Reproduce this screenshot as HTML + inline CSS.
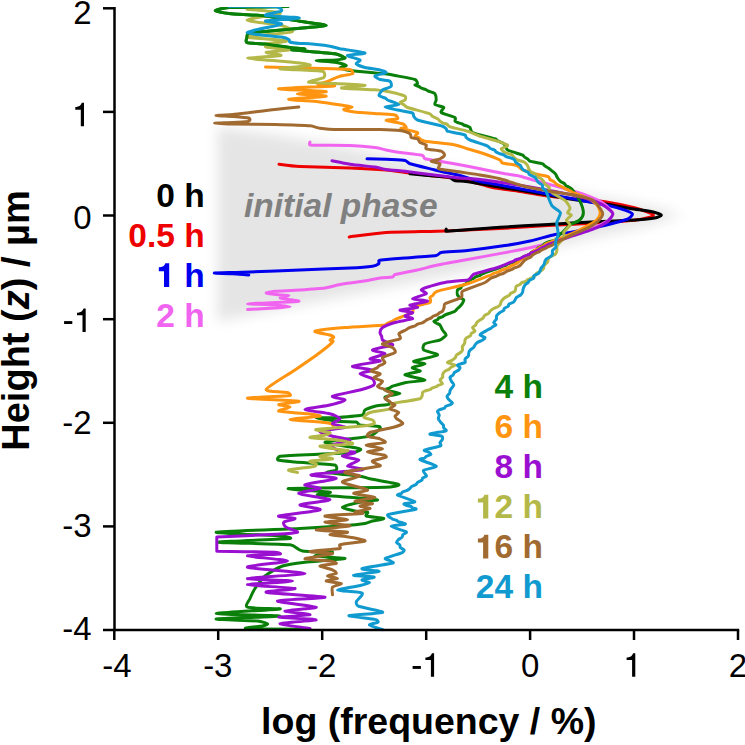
<!DOCTYPE html>
<html><head><meta charset="utf-8"><title>chart</title>
<style>
html,body{margin:0;padding:0;background:#fff;}
body{width:745px;height:745px;overflow:hidden;font-family:"Liberation Sans",sans-serif;}
svg{display:block;}
text{font-family:"Liberation Sans",sans-serif;}
.t{font-size:33px;fill:#000;}
.b{font-size:33.5px;font-weight:bold;}
.ax{font-size:37.5px;font-weight:bold;fill:#000;}
.c{fill:none;stroke-width:3;stroke-linejoin:round;stroke-linecap:round;}
</style></head><body>
<svg width="745" height="745" viewBox="0 0 745 745">
<defs><filter id="bl" x="-20%" y="-20%" width="140%" height="140%"><feGaussianBlur stdDeviation="6.5"/></filter><clipPath id="cp"><rect x="100" y="7" width="645" height="625"/></clipPath></defs>
<rect width="745" height="745" fill="#fff"/>
<path d="M217.5,127 L270,134 L335,145 L400,158.5 L505,179 L600,197.5 L645,205.5 L683,215 L645,226 L600,236 L542,250 L505,261 L455,274 L380,289 L300,305 L217.5,321 Z" fill="#e5e5e5" filter="url(#bl)"/>
<text x="244" y="216.7" class="b" style="font-style:italic;font-size:33.5px" fill="#808080">initial phase</text>
<path class="c" clip-path="url(#cp)" stroke="#ee0000" d="M279.0,164.2 C281.4,164.5 292.0,166.1 300.0,166.5 C308.3,166.9 340.0,167.6 350.0,168.0 C360.0,168.4 379.6,169.5 386.0,170.0 C392.4,170.5 399.9,171.9 405.0,172.5 C410.1,173.1 423.3,174.7 430.0,175.5 C436.7,176.3 455.2,178.1 462.5,179.5 C469.8,180.9 485.8,186.1 492.5,187.5 C499.2,188.9 513.1,190.4 520.0,191.5 C526.9,192.6 545.0,195.6 552.0,196.5 C559.0,197.4 573.7,198.9 580.0,199.5 C586.3,200.1 599.8,201.0 606.3,202.0 C612.8,203.0 629.8,206.5 635.3,208.0 C640.8,209.5 652.9,213.9 653.4,215.2 C653.9,216.5 645.3,218.7 640.0,219.5 C633.8,220.4 610.7,222.1 600.0,222.8 C589.3,223.5 559.7,224.8 548.0,225.5 C536.3,226.2 511.9,227.9 500.0,228.5 C488.1,229.1 459.3,230.5 446.0,231.0 C432.7,231.5 397.5,231.8 386.2,232.5 C375.0,233.2 353.6,236.5 349.2,237.0"/>
<path class="c" clip-path="url(#cp)" stroke="#000000" d="M410.0,173.8 C413.5,174.1 435.4,176.2 440.0,176.6 C443.7,176.9 448.0,176.9 449.7,177.4 C451.4,177.9 452.6,180.1 454.5,180.6 C456.4,181.1 462.8,181.0 465.8,181.4 C468.8,181.8 475.8,183.0 480.3,183.8 C484.8,184.6 498.6,187.0 504.4,187.9 C510.2,188.8 524.6,191.0 530.2,191.9 C535.8,192.8 547.0,194.9 552.8,195.9 C558.6,196.9 573.8,199.6 580.0,200.5 C586.2,201.4 600.2,203.1 606.0,204.0 C611.8,204.9 625.5,207.7 630.0,208.5 C634.5,209.3 642.1,210.0 645.0,210.5 C647.9,211.0 653.1,212.0 655.0,212.5 C656.9,213.0 661.4,214.5 661.4,215.2 C661.4,215.9 657.4,217.6 654.6,218.1 C651.6,218.7 642.1,219.6 635.3,220.0 C628.5,220.4 606.8,221.3 596.6,221.8 C586.5,222.3 559.6,223.8 548.3,224.4 C537.0,225.0 511.9,226.5 500.0,227.3 C488.1,228.1 452.5,231.1 446.2,231.2 C445.4,231.3 446.2,229.3 446.2,229.0"/>
<path class="c" clip-path="url(#cp)" stroke="#0000ee" d="M367.0,158.8 C369.2,158.8 381.6,159.0 386.0,159.2 C390.4,159.5 402.2,160.0 405.0,160.5 C407.2,160.9 407.8,163.1 410.0,163.8 C413.5,164.9 428.9,168.5 435.0,170.0 C441.1,171.5 457.2,174.9 462.5,176.2 C467.8,177.6 475.0,180.4 480.0,181.5 C485.0,182.6 498.6,184.8 505.0,186.0 C511.4,187.2 527.1,190.0 535.0,191.5 C542.9,193.0 563.9,197.2 572.5,198.8 C581.1,200.4 602.5,204.2 608.7,205.6 C614.9,207.0 622.8,209.4 625.6,210.4 C628.4,211.4 632.1,213.0 632.4,214.0 C632.7,215.0 629.9,217.9 628.0,218.9 C626.1,219.9 619.7,221.5 616.0,222.5 C612.3,223.5 601.7,226.2 596.6,227.3 C591.5,228.4 577.4,231.2 572.5,232.0 C567.6,232.8 560.0,233.4 555.0,234.5 C550.0,235.6 535.8,239.7 530.0,241.0 C524.2,242.3 512.3,244.5 505.0,245.6 C497.7,246.7 474.9,249.7 467.5,250.5 C460.1,251.3 444.9,251.9 441.2,252.5 C439.1,252.9 438.4,255.2 436.2,255.5 C432.0,256.1 411.4,257.5 405.0,258.0 C398.6,258.5 384.3,259.7 381.2,260.0 C380.3,260.1 379.0,260.3 378.8,260.8 C378.5,261.2 379.5,263.1 378.8,263.8 C378.0,264.4 375.0,265.9 372.5,266.2 C369.1,266.7 358.5,267.6 350.0,268.0 C341.5,268.4 311.7,269.5 300.0,270.0 C288.3,270.5 260.0,271.6 250.0,272.0 C240.0,272.4 216.5,272.8 214.5,273.0 C212.5,273.2 228.5,273.5 232.5,273.8 C236.5,274.0 246.9,274.9 248.8,275.0"/>
<path class="c" clip-path="url(#cp)" stroke="#f064f0" d="M310.0,142.0 C310.0,142.3 308.9,144.9 310.0,145.0 C314.7,145.4 342.4,145.2 350.0,145.5 C357.6,145.8 370.8,147.0 375.0,147.5 C379.2,148.0 383.1,149.4 386.0,150.0 C388.9,150.6 395.7,151.9 400.0,152.5 C404.3,153.1 419.6,154.8 422.5,155.5 C424.0,155.9 423.5,158.3 425.0,158.8 C427.3,159.5 436.1,160.6 442.5,161.8 C448.9,162.9 472.7,167.3 480.0,168.8 C487.3,170.2 500.3,172.9 505.0,173.8 C509.7,174.6 516.5,175.5 520.0,176.2 C523.5,177.0 531.7,179.6 535.0,180.5 C538.3,181.4 544.4,183.0 548.0,184.0 C551.6,185.0 561.7,187.8 566.0,189.0 C570.3,190.2 580.5,193.2 584.6,194.7 C588.7,196.2 598.5,200.3 601.5,202.0 C604.5,203.7 608.7,207.8 610.0,209.2 C611.3,210.6 613.1,212.7 613.0,214.0 C612.9,215.3 610.5,218.7 609.0,220.0 C607.5,221.3 602.8,223.7 600.0,225.0 C597.2,226.3 589.0,229.5 585.0,231.0 C581.0,232.5 569.5,236.3 566.0,237.5 C562.5,238.7 559.2,240.0 555.0,241.2 C550.8,242.5 535.8,246.5 530.0,247.8 C524.2,249.1 512.3,251.2 505.0,252.6 C497.7,254.0 475.4,258.1 467.5,259.5 C459.6,260.9 443.3,263.8 437.5,265.0 C431.7,266.2 422.5,268.9 417.5,270.0 C412.5,271.1 397.9,273.7 395.0,274.5 C393.7,274.9 393.8,276.7 392.5,277.0 C390.8,277.4 383.5,277.5 380.0,278.0 C376.5,278.5 367.2,280.5 362.5,281.2 C357.8,282.0 344.4,283.7 340.0,284.5 C335.6,285.3 329.7,287.4 325.0,288.0 C320.3,288.6 305.8,289.6 300.0,290.0 C294.2,290.4 278.9,290.9 275.0,291.2 C271.6,291.6 265.7,292.6 266.2,293.0 C266.8,293.4 277.4,294.7 280.0,295.0 C282.6,295.3 288.8,295.1 288.8,295.5 C288.8,295.9 280.0,297.5 280.0,298.0 C280.0,298.5 286.6,299.1 288.8,299.5 C290.9,299.9 300.4,300.9 298.8,301.2 C297.1,301.6 281.0,302.2 275.0,302.5 C269.0,302.8 247.5,303.5 247.5,303.8 C247.5,304.0 270.0,304.6 275.0,305.0 C280.0,305.4 290.0,306.4 290.0,306.8 C290.0,307.1 280.0,307.7 275.0,308.0 C270.0,308.3 250.7,309.3 247.5,309.5"/>
<path class="c" clip-path="url(#cp)" stroke="#0a800a" d="M288.0,6.4 C281.1,6.5 237.5,7.1 229.0,7.6 C223.6,7.9 215.2,10.1 215.2,10.8 C215.2,11.5 223.7,12.8 229.0,13.4 C234.8,14.0 256.7,15.1 265.0,16.0 C273.3,16.9 292.9,20.1 300.0,21.2 C307.1,22.4 326.2,24.7 326.2,25.5 C326.2,26.3 306.9,27.6 300.0,28.2 C293.1,28.9 273.5,30.6 267.5,31.2 C261.5,31.8 250.8,32.7 248.4,33.4 C247.0,33.8 247.2,35.9 247.0,37.0 C246.8,38.1 245.0,41.9 247.0,42.7 C249.1,43.5 259.8,43.4 265.0,44.0 C270.2,44.6 287.0,47.2 291.7,47.8 C296.4,48.4 305.0,48.5 305.0,48.8 C305.0,49.0 288.5,49.2 292.0,49.8 C295.5,50.4 328.8,52.8 335.0,53.8 C339.1,54.4 344.9,57.3 345.0,58.0 C345.1,58.7 339.6,59.7 336.2,60.0 C332.9,60.3 316.2,60.5 316.2,60.8 C316.2,61.0 332.8,61.9 336.2,62.5 C339.8,63.1 345.8,64.9 346.2,65.5 C346.7,66.1 339.6,67.4 340.0,68.0 C340.4,68.6 346.1,69.9 350.0,70.5 C354.1,71.1 370.9,72.6 375.0,73.0 C378.8,73.4 382.7,73.5 385.0,73.8 C387.3,74.0 391.5,74.8 395.0,75.5 C398.5,76.2 412.4,78.5 415.0,79.5 C416.8,80.1 417.5,83.1 417.5,83.8 C417.5,84.4 414.8,84.7 415.0,85.0 C415.2,85.3 418.3,86.1 418.9,86.5 C419.6,86.8 420.1,87.6 420.8,87.9 C421.6,88.3 424.6,89.0 425.5,89.4 C426.3,89.7 427.0,90.5 427.8,90.8 C428.6,91.2 431.3,92.0 432.1,92.3 C433.0,92.6 434.5,92.9 435.0,93.8 C435.5,94.6 436.2,98.7 436.2,100.0 C436.2,101.3 434.1,103.6 435.0,104.5 C435.9,105.4 443.0,106.6 443.8,107.5 C444.5,108.4 439.9,111.3 441.2,112.5 C442.6,113.7 453.4,116.5 455.0,117.5 C456.2,118.3 454.7,120.7 455.0,121.2 C455.3,121.8 456.8,122.2 457.6,122.5 C458.4,122.8 461.2,123.5 461.9,123.8 C462.6,124.0 462.9,124.7 463.6,125.0 C464.3,125.3 466.9,126.0 467.6,126.2 C468.4,126.5 469.4,126.8 470.0,127.5 C470.6,128.2 470.6,131.6 472.5,132.5 C475.4,133.8 492.0,137.8 495.0,138.8 C496.3,139.2 496.9,140.3 497.8,140.8 C498.7,141.3 501.7,142.4 502.5,142.9 C503.4,143.4 504.4,144.2 505.0,145.0 C505.6,145.8 505.7,148.9 507.5,150.0 C509.5,151.2 520.5,154.2 522.5,155.0 C523.5,155.4 524.0,156.6 524.6,157.1 C525.3,157.6 527.3,158.7 527.9,159.2 C528.5,159.7 528.9,160.9 530.0,161.2 C531.7,161.8 540.8,163.2 542.5,163.8 C543.6,164.1 544.2,165.4 544.8,165.9 C545.5,166.4 547.4,167.4 548.3,168.0 C549.2,168.6 551.4,170.4 552.3,171.1 C553.1,171.8 555.0,173.4 555.6,174.2 C556.2,175.0 556.9,177.0 557.5,177.8 C558.0,178.6 559.6,180.7 560.4,181.4 C561.2,182.1 563.5,183.0 564.2,183.5 C564.9,184.0 565.4,185.2 566.1,185.7 C566.8,186.1 569.4,187.3 570.1,187.8 C570.9,188.3 571.8,188.9 572.5,189.9 C573.6,191.4 578.4,198.0 579.7,200.7 C581.0,203.4 583.4,210.5 583.4,212.8 C583.4,215.1 581.3,218.6 579.7,220.0 C578.1,221.4 572.0,223.5 570.0,224.9 C568.0,226.3 564.0,231.0 562.8,232.1 C561.6,233.2 560.1,234.1 559.5,234.7 C558.9,235.3 558.5,236.8 558.0,237.4 C557.5,238.0 556.1,239.5 555.0,240.0 C553.9,240.5 549.5,241.4 548.3,241.8 C547.1,242.2 545.1,243.3 544.5,243.8 C543.8,244.3 543.3,245.3 542.5,245.8 C541.8,246.2 539.0,247.3 538.3,247.8 C537.6,248.2 537.2,249.3 536.5,249.8 C535.8,250.2 533.0,251.3 532.2,251.8 C531.5,252.2 530.5,253.3 530.0,253.8 C529.5,254.2 528.6,254.9 527.8,255.2 C527.1,255.6 524.3,256.4 523.5,256.8 C522.8,257.1 522.0,257.9 521.3,258.2 C520.7,258.6 518.4,259.4 517.6,259.8 C516.9,260.1 515.6,260.9 515.0,261.2 C514.4,261.6 513.2,262.2 512.4,262.5 C511.6,262.8 508.9,263.5 508.2,263.8 C507.6,264.0 507.1,264.7 506.5,265.0 C505.8,265.3 503.4,266.0 502.6,266.2 C501.9,266.5 501.0,267.1 500.0,267.5 C497.7,268.4 484.8,272.8 482.5,273.8 C481.5,274.1 481.0,274.9 480.2,275.3 C479.4,275.7 476.4,276.5 475.6,276.9 C474.8,277.2 474.1,278.1 473.5,278.4 C472.8,278.8 470.7,279.6 470.0,280.0 C469.3,280.4 467.7,281.5 467.1,282.0 C466.6,282.5 466.1,283.5 465.5,284.0 C464.8,284.5 462.3,285.5 461.7,286.0 C461.2,286.5 461.3,287.5 460.8,288.0 C460.3,288.5 457.9,289.2 457.5,290.0 C457.1,290.8 457.2,294.1 457.5,295.0 C457.8,295.9 459.2,296.9 459.9,297.5 C460.6,298.1 463.5,299.3 463.8,300.0 C464.0,300.7 462.9,302.4 462.5,303.1 C462.0,303.9 460.6,305.6 460.0,306.2 C459.4,306.9 457.7,308.2 457.1,308.8 C456.5,309.3 456.1,310.7 455.0,311.2 C453.6,312.0 446.4,314.4 445.0,315.0 C444.0,315.4 443.4,316.2 442.7,316.6 C442.0,316.9 439.3,317.8 438.7,318.1 C438.1,318.5 438.0,319.3 437.4,319.7 C436.8,320.1 433.9,320.8 433.8,321.2 C433.6,321.7 435.4,322.7 436.1,323.1 C436.8,323.6 439.3,324.2 440.0,325.0 C440.7,325.8 441.8,328.8 442.5,330.0 C443.2,331.2 446.1,334.1 446.2,335.0 C446.4,335.9 444.4,336.9 443.6,337.5 C442.9,338.1 441.6,339.5 440.0,340.0 C437.8,340.7 426.9,342.6 425.0,343.8 C423.1,344.9 422.3,348.7 423.8,350.0 C425.2,351.3 438.7,353.7 437.5,355.0 C436.3,356.3 415.2,360.2 413.8,361.2 C412.3,362.3 425.1,363.0 425.0,363.8 C424.9,364.5 413.6,366.8 412.5,367.5 C411.4,368.2 415.0,368.9 415.9,369.4 C416.8,369.8 421.3,370.6 420.0,371.2 C418.7,371.9 404.4,374.0 405.0,375.0 C405.6,376.0 424.9,379.1 425.0,380.0 C425.1,380.9 409.8,381.8 406.0,382.5 C402.2,383.2 394.5,385.6 392.5,386.2 C391.1,386.7 390.0,387.7 389.1,388.1 C388.2,388.6 383.7,389.4 385.0,390.0 C386.3,390.6 400.0,392.7 400.0,393.5 C400.0,394.3 386.2,395.8 385.0,397.0 C383.8,398.2 391.2,402.7 390.0,403.8 C388.8,404.8 377.9,405.5 375.0,406.2 C372.1,407.0 366.5,409.0 365.0,410.0 C363.5,411.0 364.5,414.4 362.5,415.0 C359.3,415.9 342.9,417.1 337.5,417.5 C332.1,417.9 316.2,417.6 316.2,418.0 C316.2,418.4 332.8,420.8 337.5,421.2 C342.2,421.7 353.6,421.6 356.2,422.0 C358.1,422.3 358.2,424.7 360.0,425.0 C362.7,425.5 377.1,426.1 379.4,426.5 C380.3,426.7 380.6,428.1 380.0,428.8 C378.9,429.9 373.5,435.1 370.0,436.2 C366.5,437.4 355.2,438.0 350.0,438.8 C344.8,439.5 323.8,441.3 325.0,442.5 C326.2,443.7 356.8,447.6 360.0,448.8 C363.0,449.8 355.7,452.2 352.5,452.5 C343.2,453.4 288.7,455.4 280.0,456.2 C278.4,456.4 276.5,459.4 278.0,460.0 C279.8,460.7 288.5,461.4 295.0,462.0 C301.6,462.6 330.2,464.1 335.0,465.0 C336.9,465.4 337.1,469.1 336.2,470.0 C335.4,470.9 324.7,471.8 327.5,472.5 C330.3,473.2 355.0,475.5 360.0,476.2 C363.9,476.8 366.2,477.9 370.0,478.8 C374.5,479.7 396.8,483.5 398.7,484.5 C400.6,485.5 390.9,487.1 386.0,487.2 C373.2,487.7 295.3,487.9 288.8,488.5 C282.2,489.1 326.6,491.5 330.0,492.2 C333.4,493.0 315.2,494.2 317.5,494.8 C319.8,495.3 343.0,496.7 350.0,497.2 C357.0,497.8 376.3,499.2 377.5,499.8 C378.7,500.3 364.1,501.4 360.0,502.2 C355.9,503.1 343.1,506.2 342.5,507.2 C341.9,508.3 352.1,510.4 355.0,511.0 C357.9,511.6 366.2,511.7 367.5,512.2 C368.8,512.8 364.8,515.5 366.2,516.0 C368.1,516.7 383.0,517.9 383.8,518.5 C384.5,519.1 374.7,520.4 372.5,521.0 C370.3,521.6 368.0,523.0 365.0,523.5 C361.2,524.1 347.6,525.4 340.0,526.0 C332.4,526.6 314.4,527.8 300.0,528.5 C285.6,529.2 218.3,531.4 216.2,532.2 C214.2,533.1 273.9,535.3 282.5,536.0 C285.5,536.3 293.0,538.2 290.0,538.5 C282.4,539.2 217.5,541.5 217.5,542.2 C217.5,543.0 280.1,543.7 290.0,544.8 C295.3,545.3 297.5,550.1 302.5,551.0 C307.5,551.9 331.0,551.7 332.5,552.2 C334.0,552.8 313.5,555.3 315.0,556.0 C316.5,556.7 346.2,557.8 345.0,558.5 C343.8,559.2 312.3,561.4 305.0,562.2 C297.7,563.1 287.2,564.4 282.5,566.0 C277.8,567.6 268.2,573.4 265.0,576.0 C261.8,578.6 256.8,585.9 255.0,588.5 C253.2,591.1 250.9,596.3 250.0,598.5 C249.1,600.7 244.2,606.1 247.5,607.2 C251.0,608.5 283.6,608.3 280.0,609.0 C276.4,609.7 216.2,612.7 216.2,613.5 C216.2,614.3 280.0,615.4 280.0,616.0 C280.0,616.6 218.9,618.4 216.2,619.0 C213.6,619.6 251.5,620.4 257.5,621.0 C261.4,621.4 267.0,623.4 267.5,624.0 C268.0,624.6 264.2,625.5 262.0,626.0 C259.5,626.5 241.2,628.1 246.2,628.5 C251.3,628.9 298.1,629.2 305.0,629.2"/>
<path class="c" clip-path="url(#cp)" stroke="#ff9410" d="M265.5,67.0 C269.5,67.1 290.1,67.7 300.0,68.0 C309.9,68.3 343.9,68.8 350.0,69.5 C351.9,69.7 353.7,73.0 352.5,73.8 C351.3,74.5 343.0,75.3 340.0,76.2 C337.0,77.2 329.4,80.8 326.8,81.7 C324.2,82.6 317.2,83.8 318.0,84.3 C318.8,84.8 338.6,85.5 334.0,86.0 C329.4,86.5 279.4,88.0 278.5,88.7 C277.6,89.4 324.0,91.0 326.2,91.6 C328.4,92.2 297.2,93.3 297.2,93.8 C297.2,94.3 327.2,95.6 326.2,96.2 C325.2,96.8 289.6,98.6 288.7,99.2 C287.8,99.8 312.0,101.0 318.3,101.7 C324.6,102.4 338.6,104.7 342.5,105.3 C346.2,105.9 352.0,106.6 352.1,107.1 C352.2,107.6 343.4,108.9 343.7,109.5 C344.0,110.1 350.3,111.4 354.5,111.9 C358.7,112.4 375.3,113.4 380.0,113.8 C384.7,114.1 393.0,114.4 395.0,115.0 C396.6,115.5 398.5,118.1 397.5,118.8 C396.5,119.4 385.7,119.9 386.2,120.5 C386.8,121.1 400.2,122.9 402.5,123.8 C404.4,124.4 406.4,126.9 406.2,127.5 C406.1,128.1 399.7,127.9 401.0,128.5 C402.3,129.1 415.9,131.6 417.5,132.5 C419.0,133.3 414.8,135.6 415.0,136.2 C415.2,136.9 418.3,137.5 419.0,137.9 C419.7,138.3 420.2,139.2 420.9,139.6 C421.6,140.0 423.3,141.0 425.0,141.2 C429.0,141.9 450.0,144.1 455.0,145.0 C459.9,145.9 463.7,147.6 467.5,148.8 C471.3,149.9 483.7,153.7 487.5,155.0 C491.3,156.3 498.2,159.1 500.0,160.0 C501.3,160.7 501.1,162.5 502.5,163.0 C504.2,163.6 513.1,164.6 515.0,165.0 C516.6,165.4 518.2,166.4 518.8,166.8 C519.5,167.3 520.2,168.2 520.8,168.7 C521.4,169.1 522.8,170.0 524.2,170.5 C525.9,171.1 532.2,173.0 535.0,173.8 C537.8,174.5 546.5,175.9 548.3,176.6 C549.5,177.1 549.3,178.9 550.0,179.5 C550.7,180.1 553.2,181.2 554.0,181.7 C554.7,182.3 555.5,183.4 556.3,184.0 C557.0,184.5 559.5,185.8 560.4,186.2 C561.3,186.6 563.2,187.4 563.9,187.7 C564.5,188.1 565.1,188.9 565.8,189.2 C566.6,189.6 569.3,190.4 570.1,190.8 C570.9,191.1 571.5,191.9 572.5,192.3 C574.2,193.0 581.8,195.6 584.6,197.0 C587.4,198.4 594.8,202.6 596.6,204.4 C598.4,206.2 600.3,211.0 600.3,212.8 C600.3,214.6 598.4,218.3 596.6,220.0 C594.8,221.7 587.4,225.7 584.6,227.3 C581.8,228.9 576.7,231.6 572.5,233.4 C568.3,235.2 551.5,241.7 548.3,243.0 C547.1,243.5 545.8,244.2 545.2,244.6 C544.6,245.0 543.7,245.8 543.0,246.2 C542.3,246.5 539.9,247.4 539.3,247.8 C538.6,248.1 538.0,249.0 537.3,249.3 C536.7,249.7 534.6,250.5 533.9,250.9 C533.2,251.3 532.0,252.1 531.4,252.5 C530.8,252.9 529.9,254.0 529.2,254.5 C528.4,255.0 525.8,256.0 525.1,256.5 C524.5,257.0 524.1,258.0 523.5,258.5 C522.9,259.0 520.5,260.0 519.8,260.5 C519.2,261.0 518.5,262.0 517.9,262.5 C517.3,263.0 515.3,264.1 514.5,264.5 C513.7,264.9 511.7,265.6 511.0,266.0 C510.4,266.4 509.5,267.1 508.8,267.5 C508.1,267.9 505.9,268.7 505.0,269.0 C504.1,269.3 501.9,270.1 501.2,270.4 C500.4,270.8 499.3,271.6 498.4,271.9 C497.6,272.2 494.6,273.0 493.8,273.4 C493.0,273.7 492.1,274.5 491.3,274.8 C490.6,275.1 489.0,275.7 487.5,276.2 C484.7,277.3 473.3,282.0 467.5,283.8 C461.7,285.5 441.4,290.1 437.5,291.2 C436.1,291.7 434.8,292.8 434.3,293.3 C433.7,293.8 433.3,294.9 432.8,295.4 C432.3,295.9 430.3,296.7 430.0,297.5 C429.7,298.3 431.6,301.5 430.0,302.5 C428.2,303.5 417.0,305.4 415.0,306.2 C413.7,306.8 413.3,308.6 413.0,309.4 C412.7,310.1 413.5,311.9 412.5,312.5 C411.0,313.4 402.0,316.7 400.0,317.5 C398.1,318.3 395.9,319.1 395.0,319.5 C394.1,319.9 392.9,320.9 392.0,321.3 C391.2,321.8 388.6,322.7 387.7,323.2 C386.9,323.6 386.2,324.9 385.0,325.0 C380.0,325.5 353.2,326.8 345.0,327.5 C336.8,328.2 316.8,330.4 315.0,331.2 C313.2,332.1 327.8,334.3 330.0,335.0 C331.6,335.5 333.8,336.9 333.8,337.5 C333.8,338.1 330.1,339.5 330.0,340.0 C329.9,340.5 333.8,340.5 333.0,341.5 C331.8,343.0 324.4,349.2 320.0,352.5 C315.6,355.8 301.3,365.7 295.0,370.0 C288.7,374.3 267.1,386.9 266.2,389.5 C265.4,392.1 284.7,391.8 287.5,392.5 C288.9,392.9 291.5,395.3 290.0,395.5 C285.3,396.2 246.5,397.6 247.5,398.2 C248.5,398.9 295.1,400.5 298.8,401.2 C302.4,402.0 279.8,403.8 278.8,404.5 C277.7,405.2 290.0,406.2 290.0,407.0 C290.0,407.8 276.7,410.5 278.8,411.2 C280.8,412.0 302.7,413.2 307.5,413.8 C312.3,414.3 322.0,415.6 320.0,416.2 C318.0,416.9 290.0,418.8 290.0,419.5 C290.0,420.2 315.2,421.5 320.0,422.0 C324.3,422.4 329.7,423.3 331.2,423.8 C332.2,424.0 332.8,425.3 333.0,425.5"/>
<path class="c" clip-path="url(#cp)" stroke="#9a10d0" d="M332.0,160.8 C334.1,161.2 345.0,163.5 350.0,164.2 C355.0,165.0 370.8,166.4 375.0,167.0 C379.2,167.6 382.5,169.0 386.0,169.5 C389.5,170.0 399.9,170.7 405.0,171.2 C410.1,171.8 424.2,173.8 430.0,174.5 C435.8,175.2 449.2,176.9 455.0,177.5 C460.8,178.1 474.2,178.9 480.0,179.5 C485.8,180.1 499.2,182.1 505.0,183.0 C510.8,183.9 524.2,186.0 530.0,187.0 C535.8,188.0 549.2,190.4 555.0,191.5 C560.8,192.6 575.1,195.6 580.0,196.8 C584.9,198.0 593.6,200.8 596.6,202.0 C599.6,203.2 604.1,205.6 606.0,207.0 C607.9,208.4 612.8,212.2 612.8,214.0 C612.8,215.8 608.8,220.7 606.3,222.5 C603.8,224.3 595.7,228.1 591.8,229.7 C587.9,231.3 577.6,234.1 572.5,235.8 C567.4,237.5 551.5,243.3 548.3,244.5 C547.1,245.0 546.1,245.8 545.3,246.2 C544.5,246.7 542.0,247.6 541.2,248.0 C540.4,248.4 539.4,249.3 538.7,249.8 C538.0,250.2 535.9,251.1 535.0,251.5 C534.1,251.9 531.8,252.7 531.2,253.0 C530.5,253.3 529.9,254.2 529.1,254.5 C528.4,254.8 525.5,255.7 524.7,256.0 C523.9,256.4 522.6,257.2 522.0,257.5 C521.4,257.8 520.3,258.5 519.6,258.8 C518.8,259.0 516.0,259.7 515.3,260.0 C514.6,260.3 514.3,261.0 513.7,261.2 C513.0,261.5 511.4,262.0 510.0,262.5 C508.1,263.2 501.6,266.2 497.5,267.5 C493.4,268.8 478.0,272.8 475.0,273.8 C473.7,274.2 472.5,275.3 472.0,275.8 C471.4,276.3 470.9,277.4 470.4,277.9 C469.9,278.4 468.8,279.8 467.5,280.0 C464.5,280.5 449.8,281.6 445.0,282.5 C440.2,283.4 429.0,286.6 426.2,287.5 C424.2,288.1 421.2,289.3 421.2,290.0 C421.2,290.7 427.3,292.7 426.2,293.8 C425.2,294.8 412.4,297.9 412.5,298.8 C412.6,299.6 427.8,300.5 427.5,301.2 C427.2,302.0 411.2,304.3 410.0,305.0 C408.8,305.7 418.7,306.9 417.5,307.5 C416.3,308.1 400.6,309.4 400.0,310.0 C399.4,310.6 411.5,312.0 412.5,312.5 C413.5,313.0 409.3,313.9 408.4,314.4 C407.5,314.8 404.5,315.7 405.0,316.2 C405.5,316.8 413.7,318.0 412.5,318.8 C411.3,319.5 398.5,321.5 395.0,322.5 C391.5,323.5 384.2,326.3 382.5,327.5 C380.8,328.7 380.1,331.5 380.0,332.5 C379.9,333.5 381.3,335.4 381.6,336.2 C381.8,337.1 382.0,339.4 382.5,340.0 C383.0,340.6 384.7,341.3 385.5,341.7 C386.4,342.1 388.9,342.9 389.7,343.3 C390.5,343.7 393.7,344.5 392.5,345.0 C390.5,345.8 373.4,349.0 372.5,350.0 C371.6,351.0 385.3,352.7 385.0,353.8 C384.7,354.8 370.6,357.9 370.0,358.8 C369.4,359.6 382.0,360.4 380.0,361.2 C378.0,362.1 353.4,365.2 352.5,366.2 C351.6,367.3 371.6,369.1 372.5,370.0 C373.4,370.9 360.0,372.7 360.0,373.8 C360.0,374.8 370.9,377.4 372.5,378.8 C374.1,380.1 375.2,383.7 373.8,385.0 C372.3,386.3 364.8,388.7 360.0,390.0 C355.2,391.3 334.2,395.1 332.5,396.2 C330.8,397.4 345.3,399.0 345.0,400.0 C344.7,401.0 334.7,403.9 330.0,405.0 C325.3,406.1 305.0,408.5 305.0,409.5 C305.0,410.5 325.9,412.7 330.0,413.8 C334.1,414.8 339.7,417.6 340.0,418.8 C340.3,419.9 331.9,422.7 332.5,423.8 C333.1,424.8 346.5,426.6 345.0,427.5 C343.5,428.4 321.5,430.2 320.0,431.2 C318.5,432.3 329.0,435.2 332.5,436.2 C336.0,437.3 350.0,439.0 350.0,440.0 C350.0,441.0 334.0,443.8 332.5,445.0 C331.0,446.2 335.0,449.2 337.5,450.0 C340.1,450.9 354.4,451.8 355.0,452.5 C355.6,453.2 342.1,455.4 342.5,456.2 C342.9,457.1 358.2,458.9 358.8,460.0 C359.3,461.1 347.1,464.9 347.5,466.0 C347.9,467.1 366.7,468.7 362.5,469.8 C358.3,470.8 314.3,473.7 311.2,474.8 C308.2,475.8 337.0,477.3 336.2,478.5 C335.5,479.7 306.9,483.6 305.0,484.8 C303.1,485.9 320.7,487.5 320.0,488.5 C319.3,489.5 297.6,492.2 298.8,493.5 C299.9,494.8 329.9,498.4 330.0,499.8 C330.1,501.1 301.2,503.6 300.0,504.8 C298.8,505.9 322.5,508.4 320.0,509.8 C317.5,511.1 281.7,515.0 278.8,516.0 C275.8,517.0 294.4,517.8 295.0,518.5 C295.6,519.2 284.8,521.2 283.8,522.2 C282.7,523.3 284.6,526.1 286.2,527.2 C287.9,528.4 298.8,531.4 297.5,532.2 C296.2,533.1 283.6,533.8 275.0,534.3 C265.6,534.9 223.6,536.7 216.8,537.0 C216.8,537.0 216.8,537.0 216.8,537.0 C216.8,538.7 216.8,549.5 216.8,551.2 C216.8,551.2 216.8,551.2 216.8,551.2 C223.6,551.3 267.6,551.9 275.0,552.2 C277.0,552.3 282.0,553.7 280.0,554.0 C276.8,554.4 246.6,555.2 247.5,556.0 C248.4,556.8 287.5,559.7 287.5,561.0 C287.5,562.3 245.5,565.8 247.5,567.2 C249.5,568.7 305.0,572.2 305.0,573.5 C305.0,574.8 249.0,577.6 247.5,578.5 C246.0,579.4 292.5,580.3 292.5,581.0 C292.5,581.7 247.2,583.9 247.5,584.8 C247.8,585.6 292.8,587.6 295.0,588.5 C297.2,589.4 262.8,591.2 266.2,592.2 C269.8,593.3 323.7,596.2 325.0,597.2 C326.3,598.3 278.5,599.8 277.5,601.0 C276.5,602.2 315.4,606.1 316.2,607.2 C317.1,608.4 285.7,610.1 285.0,611.0 C284.3,611.9 310.7,614.0 310.0,614.8 C309.3,615.5 278.0,616.7 278.8,617.2 C279.5,617.8 316.1,619.0 316.2,619.8 C316.4,620.5 280.7,622.5 280.0,623.5 C279.3,624.5 306.5,627.9 310.0,628.5"/>
<path class="c" clip-path="url(#cp)" stroke="#b4b848" d="M247.0,9.2 C249.4,9.4 263.6,10.7 267.5,11.2 C271.4,11.7 282.4,12.5 280.0,13.5 C277.6,14.5 246.8,18.7 247.0,20.1 C247.2,21.5 276.3,24.1 281.5,25.5 C285.9,26.7 295.7,30.6 291.7,31.9 C287.7,33.2 247.6,36.0 247.0,37.0 C246.4,38.0 284.4,40.0 286.6,40.8 C288.8,41.6 268.4,43.3 266.0,44.0 C264.9,44.3 264.9,46.7 266.0,47.0 C268.8,47.7 290.4,49.1 290.4,49.7 C290.4,50.3 267.3,51.6 266.2,52.3 C265.1,53.0 283.1,54.8 280.9,55.5 C278.7,56.2 247.6,57.7 247.7,58.4 C247.8,59.1 275.4,60.7 281.5,61.2 C287.6,61.7 296.7,62.6 300.0,63.1 C303.3,63.6 312.3,64.8 310.0,65.5 C307.7,66.2 278.5,68.1 280.0,68.8 C281.5,69.4 317.4,70.2 322.5,71.2 C324.9,71.7 325.4,76.2 323.8,77.5 C322.1,78.8 307.3,81.6 308.6,82.3 C309.9,83.0 328.6,83.2 335.2,83.6 C341.8,83.9 364.3,84.8 365.0,85.3 C365.7,85.8 340.3,87.5 341.5,88.0 C342.7,88.5 369.8,89.4 375.0,89.8 C379.2,90.1 383.7,90.9 386.0,91.2 C388.3,91.6 392.8,92.4 395.0,93.0 C397.2,93.6 403.8,95.4 405.0,96.2 C406.2,97.1 405.6,99.3 405.0,100.0 C404.4,100.7 400.1,101.9 400.0,102.5 C399.9,103.1 403.4,104.4 404.2,105.0 C405.1,105.6 406.0,107.0 407.5,107.5 C410.5,108.5 427.1,112.7 430.0,113.8 C431.2,114.2 431.4,115.7 432.3,116.2 C433.1,116.8 436.7,118.2 437.6,118.8 C438.5,119.3 439.4,120.8 440.0,121.2 C440.6,121.7 441.7,122.4 442.5,122.8 C443.4,123.2 446.6,124.0 447.3,124.4 C447.9,124.7 447.9,125.6 448.5,125.9 C449.1,126.3 450.9,127.1 452.5,127.5 C454.7,128.1 464.3,130.2 467.5,131.2 C470.7,132.3 476.5,135.1 480.0,136.2 C483.5,137.4 494.3,140.2 497.5,141.2 C500.7,142.3 506.6,144.3 507.5,145.0 C508.4,145.6 506.2,146.4 505.4,146.9 C504.7,147.3 501.3,148.1 501.2,148.8 C501.2,149.4 503.7,151.8 505.0,152.5 C506.3,153.2 511.0,154.2 512.0,154.8 C513.0,155.4 513.2,156.8 513.9,157.4 C514.5,158.0 516.3,159.5 517.5,160.0 C518.7,160.5 523.0,161.3 524.2,162.0 C525.4,162.7 527.0,164.8 527.6,165.7 C528.1,166.5 528.6,168.6 529.0,169.3 C529.4,170.0 530.1,171.2 530.9,171.7 C531.6,172.3 534.7,173.6 535.5,174.1 C536.2,174.7 536.5,176.0 537.2,176.6 C537.9,177.1 541.0,178.4 541.7,179.0 C542.5,179.5 543.1,180.8 543.5,181.4 C543.9,182.0 544.7,183.7 545.4,184.4 C546.1,185.1 548.7,186.7 549.2,187.4 C549.7,188.2 549.1,189.8 549.6,190.5 C550.0,191.2 551.7,192.5 553.2,193.5 C555.0,194.7 563.2,199.0 565.2,200.7 C567.2,202.4 569.7,206.6 570.0,208.0 C570.3,209.4 567.4,212.0 567.6,212.8 C567.8,213.6 571.4,214.4 571.3,215.2 C571.2,216.0 566.6,218.9 566.4,220.0 C566.2,221.1 570.3,223.5 570.0,224.9 C569.7,226.3 564.7,230.8 564.0,232.1 C563.3,233.3 564.2,234.9 564.1,235.8 C564.0,236.6 563.4,238.6 562.8,239.4 C562.2,240.2 559.9,242.2 559.2,243.0 C558.5,243.8 557.1,245.8 556.8,246.6 C556.5,247.4 557.1,249.4 556.9,250.2 C556.8,251.1 556.2,253.2 555.6,253.9 C555.0,254.6 552.2,255.7 551.4,256.3 C550.5,256.9 548.7,258.0 548.3,258.7 C547.9,259.4 548.2,261.2 547.7,261.9 C547.3,262.7 544.9,264.4 544.4,265.2 C544.0,265.9 543.9,267.7 543.5,268.4 C543.1,269.1 541.8,270.2 541.0,270.8 C540.1,271.4 537.3,272.6 536.6,273.2 C535.9,273.8 535.6,275.0 535.0,275.6 C534.4,276.2 532.2,277.5 531.4,278.0 C530.6,278.5 528.5,279.3 527.8,279.6 C527.2,280.0 526.5,280.9 525.8,281.3 C525.0,281.7 521.9,282.6 521.2,282.9 C520.6,283.3 520.6,284.2 520.0,284.6 C519.4,285.0 516.8,285.5 516.2,286.2 C515.7,287.0 515.6,290.4 515.0,291.2 C514.4,292.1 511.5,292.8 510.8,293.3 C510.1,293.8 509.8,294.9 509.1,295.4 C508.5,295.9 505.9,296.8 505.0,297.5 C504.1,298.2 502.0,300.4 501.4,301.2 C500.8,302.1 500.5,304.3 500.0,305.0 C499.5,305.7 498.0,306.6 497.1,307.1 C496.3,307.6 493.3,308.7 492.4,309.2 C491.6,309.7 490.4,310.8 490.0,311.2 C489.6,311.7 489.2,312.9 488.6,313.4 C487.9,313.9 485.0,315.1 484.4,315.6 C483.7,316.1 483.8,317.3 483.3,317.8 C482.7,318.3 480.8,319.5 480.0,320.0 C479.2,320.5 477.3,321.9 476.8,322.5 C476.3,323.1 476.2,324.4 475.7,325.0 C475.2,325.6 472.6,326.8 472.5,327.5 C472.4,328.2 475.1,330.6 475.0,331.2 C474.9,331.9 471.9,332.9 471.3,333.4 C470.8,333.9 471.2,335.1 470.6,335.6 C470.0,336.1 467.2,337.3 466.5,337.8 C465.9,338.3 465.2,339.4 465.0,340.0 C464.8,340.6 464.9,342.6 464.6,343.3 C464.3,344.1 462.6,345.9 462.3,346.7 C462.1,347.4 462.7,349.3 462.5,350.0 C462.3,350.7 461.2,351.9 460.5,352.5 C459.8,353.1 457.0,354.4 456.5,355.0 C455.9,355.6 455.9,356.9 455.5,357.5 C455.0,358.1 453.4,359.4 452.5,360.0 C451.6,360.6 447.2,361.9 447.5,362.5 C447.8,363.1 454.6,364.5 455.0,365.0 C455.4,365.5 451.8,366.6 451.1,367.1 C450.4,367.6 449.7,368.7 449.0,369.2 C448.2,369.7 445.7,370.7 445.0,371.2 C444.3,371.8 443.0,373.5 442.7,374.2 C442.4,374.8 443.0,376.4 442.7,377.1 C442.4,377.8 440.0,379.2 440.0,380.0 C440.0,380.8 442.7,383.1 442.5,383.8 C442.3,384.4 439.1,384.9 438.4,385.2 C437.6,385.5 437.0,386.3 436.3,386.7 C435.5,387.0 432.7,387.8 431.9,388.1 C431.2,388.5 430.7,389.2 429.9,389.6 C429.1,389.9 425.7,390.7 424.9,391.0 C424.0,391.4 422.8,392.0 422.5,392.5 C422.2,393.0 422.5,394.9 422.2,395.6 C421.9,396.4 421.4,398.3 420.0,398.8 C418.1,399.4 409.2,400.7 406.0,401.2 C402.8,401.8 394.4,402.9 392.5,403.8 C390.6,404.6 392.0,408.0 390.0,408.8 C387.4,409.8 373.1,411.5 370.0,412.5 C367.1,413.5 363.5,416.6 363.8,417.5 C364.0,418.4 371.3,419.3 372.5,420.0 C373.7,420.7 375.1,423.1 373.8,423.8 C372.3,424.5 365.3,425.7 360.0,426.2 C353.3,426.9 319.8,428.8 316.2,429.5 C312.8,430.2 329.0,431.9 330.0,432.5 C331.0,433.1 327.1,434.5 325.0,435.0 C322.7,435.6 308.5,436.9 310.0,437.5 C311.5,438.1 332.5,439.3 337.5,440.0 C342.5,440.7 354.5,443.0 352.5,443.8 C350.5,444.5 321.5,445.6 320.0,446.2 C318.5,446.9 336.8,449.0 340.0,449.5 C342.9,450.0 349.8,450.0 347.5,450.8 C345.2,451.5 321.8,455.3 320.0,456.2 C318.2,457.2 333.7,458.2 332.5,458.8 C331.3,459.3 311.9,460.7 310.0,461.2 C308.1,461.8 315.7,463.2 316.2,463.8 C316.8,464.3 316.0,466.0 315.0,466.2 C311.8,467.0 290.8,469.3 288.8,470.0 C286.7,470.7 296.5,472.2 297.5,472.5"/>
<path class="c" clip-path="url(#cp)" stroke="#0a800a" d="M288.0,6.4 C281.1,6.5 237.5,7.1 229.0,7.6 C223.6,7.9 215.2,10.1 215.2,10.8 C215.2,11.5 223.7,12.8 229.0,13.4 C234.8,14.0 256.7,15.1 265.0,16.0 C273.3,16.9 292.9,20.1 300.0,21.2 C307.1,22.4 326.2,24.7 326.2,25.5 C326.2,26.3 306.9,27.6 300.0,28.2 C293.1,28.9 273.5,30.6 267.5,31.2 C261.5,31.8 250.8,32.7 248.4,33.4 C247.0,33.8 247.2,35.9 247.0,37.0 C246.8,38.1 245.0,41.9 247.0,42.7 C249.1,43.5 259.8,43.4 265.0,44.0 C270.2,44.6 287.0,47.2 291.7,47.8 C296.4,48.4 305.0,48.5 305.0,48.8 C305.0,49.0 288.5,49.2 292.0,49.8 C295.5,50.4 328.8,52.8 335.0,53.8 C339.1,54.4 343.8,57.5 345.0,58.0"/>
<path class="c" clip-path="url(#cp)" stroke="#a06a30" d="M298.8,107.0 C296.0,107.3 280.7,108.9 275.0,109.5 C269.3,110.1 255.0,111.9 250.0,112.5 C245.0,113.1 236.5,114.2 232.5,114.5 C228.5,114.8 216.0,115.3 216.0,115.5 C216.0,115.7 228.7,116.2 232.5,116.5 C236.3,116.8 246.7,117.6 248.8,118.0 C249.6,118.2 250.1,119.6 250.0,120.0 C249.9,120.4 248.6,121.3 247.5,121.5 C245.5,121.8 236.3,122.3 232.5,122.5 C228.7,122.7 214.5,123.0 214.5,123.2 C214.5,123.4 225.7,123.9 232.5,124.0 C239.6,124.2 266.0,124.3 275.0,124.5 C284.0,124.7 304.8,125.3 310.0,125.8 C313.9,126.1 316.5,127.8 320.0,128.2 C323.5,128.7 333.0,129.4 340.0,129.5 C347.0,129.6 373.0,129.4 380.0,129.5 C387.0,129.6 396.5,130.0 400.0,130.5 C403.5,131.0 408.7,132.9 410.0,133.8 C411.3,134.5 410.4,136.9 411.2,137.5 C412.1,138.1 416.5,138.2 417.5,138.8 C418.5,139.3 419.0,141.8 420.0,142.5 C421.0,143.2 425.5,144.3 426.2,145.0 C427.0,145.7 424.9,148.2 426.2,148.8 C428.0,149.5 439.1,150.5 441.2,151.2 C443.0,151.9 444.6,154.1 444.5,155.0 C444.4,155.9 441.5,158.0 440.0,158.8 C438.5,159.5 431.2,160.7 431.2,161.2 C431.2,161.8 439.1,162.9 440.0,163.8 C440.9,164.6 437.0,167.9 438.8,168.8 C440.5,169.6 450.2,170.5 455.0,171.2 C459.8,172.0 474.8,174.1 480.0,175.0 C485.2,175.9 494.8,177.4 500.0,178.8 C505.2,180.1 518.6,184.8 524.2,186.2 C529.8,187.6 542.7,190.0 548.3,191.0 C553.9,192.0 567.4,193.7 572.5,194.7 C577.6,195.7 588.7,198.1 591.8,199.5 C594.9,200.9 597.7,205.1 599.0,206.8 C600.3,208.5 602.8,212.3 602.7,214.0 C602.6,215.7 599.5,219.7 597.9,221.3 C596.3,222.9 592.4,225.7 589.4,227.3 C586.4,228.9 575.9,233.0 572.5,234.6 C569.1,236.2 562.1,239.7 560.4,240.6 C559.4,241.1 558.7,241.8 557.9,242.2 C557.1,242.5 554.4,243.3 553.7,243.7 C553.0,244.1 552.7,244.9 552.0,245.2 C551.4,245.6 548.7,246.4 547.9,246.8 C547.2,247.2 546.4,248.0 545.6,248.3 C544.9,248.7 542.3,249.5 541.6,249.9 C540.9,250.3 540.3,251.1 539.7,251.4 C539.1,251.8 537.0,252.6 536.2,253.0 C535.4,253.4 533.2,254.5 532.6,254.9 C531.9,255.4 531.6,256.4 530.9,256.9 C530.3,257.3 527.7,258.3 526.9,258.8 C526.1,259.2 525.0,259.9 524.2,260.7 C523.4,261.5 520.8,264.8 520.0,265.5 C519.2,266.2 518.2,266.6 517.5,266.9 C516.7,267.2 514.3,268.0 513.6,268.3 C512.9,268.6 512.2,269.4 511.4,269.7 C510.7,270.0 508.0,270.8 507.2,271.1 C506.5,271.4 505.6,272.2 505.0,272.5 C504.4,272.8 503.1,273.5 502.4,273.8 C501.6,274.0 499.2,274.7 498.5,275.0 C497.8,275.3 497.1,276.0 496.4,276.2 C495.7,276.5 493.4,277.2 492.6,277.5 C491.9,277.8 490.9,278.2 490.0,278.8 C489.1,279.3 487.2,281.5 485.0,282.5 C481.8,284.0 465.3,289.5 462.5,291.2 C460.5,292.5 463.2,296.1 461.2,297.5 C459.2,299.0 447.0,302.6 445.0,303.8 C443.7,304.5 444.4,306.6 444.1,307.5 C443.8,308.4 443.1,310.6 442.5,311.2 C441.9,311.9 439.9,312.5 439.3,312.9 C438.7,313.3 438.1,314.2 437.4,314.6 C436.6,315.0 433.8,315.9 433.1,316.2 C432.4,316.6 432.0,317.5 431.3,317.9 C430.6,318.3 428.0,319.2 427.2,319.6 C426.5,320.0 425.6,320.9 425.0,321.2 C424.4,321.6 423.1,322.4 422.3,322.8 C421.4,323.1 418.4,323.9 417.6,324.2 C416.8,324.6 415.9,325.4 415.1,325.8 C414.3,326.1 411.5,326.9 410.7,327.2 C409.8,327.6 408.2,328.4 407.5,328.8 C406.8,329.1 405.8,330.0 405.0,330.4 C404.3,330.8 401.9,331.7 401.2,332.1 C400.5,332.5 398.9,333.0 398.8,333.8 C398.6,334.5 401.7,337.7 400.0,338.8 C398.1,339.9 383.4,342.7 382.5,343.8 C381.6,344.8 391.0,346.5 392.5,347.5 C394.0,348.5 396.2,351.3 395.0,352.5 C393.8,353.7 383.7,356.3 382.5,357.5 C381.3,358.7 385.0,361.7 385.0,362.5 C385.0,363.3 383.5,363.8 382.8,364.2 C382.1,364.7 379.5,365.6 378.9,366.0 C378.2,366.4 377.8,367.3 377.2,367.8 C376.6,368.2 374.2,369.1 373.5,369.5 C372.8,369.9 370.5,370.8 371.2,371.2 C372.0,371.7 379.3,373.2 380.0,373.8 C380.7,374.3 378.3,375.2 377.6,375.6 C376.8,376.1 373.7,377.1 373.8,377.5 C373.8,377.9 376.6,378.9 377.7,379.4 C378.7,379.8 382.2,380.7 382.5,381.2 C382.8,381.8 381.2,383.2 380.6,383.8 C380.1,384.3 377.6,385.8 377.5,386.2 C377.4,386.7 379.0,387.4 379.8,387.8 C380.6,388.1 383.5,388.9 384.2,389.2 C385.0,389.6 385.4,390.4 386.1,390.8 C386.8,391.1 389.2,391.9 389.9,392.2 C390.7,392.6 392.7,393.3 392.5,393.8 C392.3,394.2 389.0,395.7 388.1,396.2 C387.2,396.8 384.9,398.2 385.0,398.8 C385.1,399.3 388.0,400.3 388.8,400.8 C389.5,401.3 390.4,402.4 391.1,402.9 C391.9,403.4 395.1,404.3 395.0,405.0 C394.9,405.7 390.0,408.1 390.0,408.8 C390.0,409.4 393.8,410.2 394.8,410.6 C395.8,411.1 398.7,411.8 398.8,412.5 C398.8,413.2 395.2,415.5 395.0,416.2 C394.8,417.0 396.1,418.2 396.7,418.8 C397.4,419.3 399.9,420.7 400.5,421.2 C401.2,421.8 403.4,423.0 402.5,423.8 C401.6,424.5 396.3,426.5 392.5,427.5 C388.7,428.5 372.9,431.5 370.0,432.5 C368.4,433.1 366.3,435.5 367.5,436.2 C368.7,437.0 378.0,438.0 380.0,438.8 C382.0,439.5 386.6,441.8 385.0,442.5 C383.4,443.2 366.5,444.3 366.2,445.0 C366.0,445.7 382.4,447.9 382.5,448.8 C382.6,449.6 367.4,451.3 367.5,452.0 C367.6,452.7 381.6,454.4 383.8,455.0 C384.9,455.3 387.1,456.7 386.0,457.2 C384.7,457.9 373.7,460.3 372.5,461.0 C371.3,461.7 375.0,462.9 375.9,463.5 C376.7,464.1 381.8,465.5 380.0,466.0 C376.4,467.0 347.3,471.1 345.0,472.2 C342.7,473.4 360.3,474.8 360.0,476.0 C359.7,477.2 341.6,480.6 342.5,482.2 C343.4,483.9 366.2,488.4 367.5,489.8 C368.8,491.1 352.9,492.6 353.8,493.5 C354.6,494.4 374.9,496.4 375.0,497.2 C375.1,498.1 355.3,500.3 355.0,501.0 C354.7,501.7 371.9,502.9 372.5,503.5 C373.1,504.1 360.3,505.4 360.0,506.0 C359.7,506.6 370.6,507.8 370.0,508.5 C369.4,509.2 355.9,511.7 355.0,512.2 C354.1,512.8 365.4,513.1 362.5,513.5 C359.0,513.9 326.8,515.3 325.0,516.0 C323.2,516.7 347.5,519.0 347.5,519.8 C347.5,520.5 324.7,521.5 325.0,522.2 C325.3,523.0 351.0,525.1 350.0,526.0 C349.0,526.9 316.5,529.0 316.2,529.8 C316.0,530.5 345.9,531.7 347.5,532.2 C349.1,532.8 329.7,534.2 330.0,534.8 C330.3,535.3 345.9,536.5 350.0,537.2 C354.1,538.0 366.2,540.1 365.0,541.0 C363.8,541.9 342.9,543.9 340.0,544.8 C338.6,545.2 341.4,548.2 340.0,548.5 C336.5,549.3 310.9,550.9 310.0,551.5 C309.1,552.1 331.3,553.0 332.5,553.5 C333.7,554.0 323.2,555.4 320.0,556.0 C316.8,556.6 303.8,558.4 305.0,559.0 C306.2,559.6 326.4,560.5 330.0,561.0 C332.5,561.4 337.4,562.9 336.2,563.5 C335.1,564.1 320.4,565.3 320.0,566.0 C319.6,566.7 330.6,568.9 332.5,569.8 C334.3,570.6 336.8,572.8 336.2,573.5 C335.7,574.2 327.4,575.4 327.5,576.0 C327.6,576.6 337.6,577.9 337.5,578.5 C337.4,579.1 325.8,580.4 326.2,581.0 C326.7,581.6 340.5,582.8 341.2,583.5 C342.0,584.2 333.5,585.9 332.5,587.2 C331.5,588.6 332.5,593.9 332.5,594.8"/>
<path class="c" clip-path="url(#cp)" stroke="#109ad0" d="M229.0,6.3 C234.5,6.3 269.9,6.0 276.0,6.5 C278.6,6.7 282.7,9.8 281.5,10.8 C280.3,11.8 263.5,14.5 265.6,15.3 C267.7,16.1 299.4,17.2 299.4,17.9 C299.4,18.6 267.7,20.3 265.6,21.0 C263.5,21.7 283.7,22.9 281.5,24.2 C279.3,25.5 247.0,31.0 247.0,32.5 C247.0,34.0 276.6,36.2 281.5,37.0 C284.5,37.5 288.0,38.9 289.0,39.5 C289.9,40.0 288.9,41.7 289.8,42.0 C291.1,42.5 297.6,43.2 300.0,43.4 C302.4,43.6 306.5,43.4 310.0,43.8 C313.5,44.1 326.5,45.7 330.0,46.2 C333.5,46.8 336.2,48.0 340.0,48.8 C344.1,49.5 364.1,52.2 365.0,53.0 C365.9,53.8 348.1,54.7 347.5,55.5 C346.9,56.3 359.0,59.0 360.0,60.0 C361.0,61.0 355.7,62.9 356.2,63.8 C356.8,64.6 362.2,66.8 365.0,67.5 C367.8,68.2 377.6,69.4 380.0,70.0 C382.4,70.6 386.6,71.8 386.0,72.5 C385.4,73.2 375.7,75.2 375.0,76.0 C374.3,76.8 378.2,78.9 380.0,79.5 C381.8,80.1 388.7,80.5 390.0,81.2 C391.3,82.0 391.6,85.4 391.2,86.2 C390.9,87.1 388.4,87.7 387.3,88.1 C386.3,88.6 383.5,89.2 382.5,90.0 C381.5,90.8 379.2,94.2 379.0,95.0 C378.8,95.8 380.3,96.3 381.1,96.7 C381.9,97.1 385.0,97.9 385.7,98.3 C386.5,98.7 386.7,99.6 387.5,100.0 C389.0,100.7 399.0,103.7 398.8,104.5 C398.5,105.3 385.1,106.4 385.0,107.0 C384.9,107.6 394.3,109.3 397.5,110.0 C400.7,110.7 410.6,112.2 412.5,113.0 C413.8,113.5 413.3,115.7 413.8,116.5 C414.4,117.3 415.7,119.4 417.5,120.0 C420.8,121.1 439.2,125.2 442.5,126.2 C444.1,126.7 445.6,128.2 446.2,128.8 C446.8,129.3 446.5,130.9 447.5,131.2 C449.7,132.0 462.8,134.3 465.0,135.0 C466.0,135.3 465.6,136.9 466.2,137.5 C466.8,138.1 468.4,139.4 470.0,140.0 C472.2,140.9 482.8,144.2 485.0,145.0 C486.4,145.5 488.0,146.3 488.6,146.8 C489.2,147.2 489.6,148.1 490.3,148.5 C491.1,148.9 494.2,149.8 494.9,150.2 C495.6,150.7 495.4,151.6 496.0,152.0 C496.6,152.4 499.0,153.4 500.0,153.8 C501.0,154.1 503.5,154.9 504.2,155.2 C505.0,155.6 505.3,156.4 506.2,156.7 C507.0,157.1 510.6,157.9 511.6,158.2 C512.5,158.6 514.0,159.2 514.5,159.7 C515.0,160.2 515.2,161.8 515.9,162.5 C516.5,163.2 519.6,164.6 520.3,165.3 C521.0,166.0 521.3,167.5 521.7,168.1 C522.1,168.7 523.1,169.8 523.9,170.3 C524.7,170.8 527.7,172.0 528.3,172.5 C529.0,173.0 528.7,174.1 529.4,174.6 C530.1,175.1 533.4,176.3 534.2,176.8 C535.0,177.3 535.8,178.4 536.2,179.0 C536.6,179.6 537.2,181.3 537.9,182.0 C538.6,182.7 541.7,184.3 542.3,185.0 C542.9,185.7 542.3,187.3 542.7,188.0 C543.1,188.7 545.1,189.5 545.9,191.0 C547.0,193.1 550.2,203.1 551.9,205.6 C553.6,208.1 559.8,210.8 560.4,212.8 C561.0,214.8 557.1,220.2 556.8,222.5 C556.5,224.8 557.9,230.5 558.0,232.1 C558.1,233.6 558.2,235.2 557.9,236.1 C557.7,237.1 556.1,239.2 555.9,240.2 C555.6,241.1 555.6,243.4 555.6,244.2 C555.6,245.0 556.2,246.6 555.8,247.4 C555.5,248.1 552.9,249.8 552.5,250.6 C552.1,251.3 552.7,253.1 552.5,253.8 C552.3,254.4 551.7,255.7 551.0,256.2 C550.3,256.8 547.3,258.2 546.6,258.8 C545.9,259.3 545.3,260.6 545.0,261.2 C544.7,261.9 544.4,263.8 543.9,264.6 C543.5,265.4 541.7,267.1 541.2,267.9 C540.7,268.7 540.3,270.6 540.0,271.2 C539.7,271.9 539.1,273.0 538.4,273.5 C537.7,274.1 534.4,275.3 533.9,275.8 C533.3,276.4 534.3,277.6 533.8,278.1 C533.3,278.7 530.1,279.9 529.5,280.4 C528.8,281.0 528.5,282.2 528.0,282.7 C527.5,283.2 525.6,284.3 525.0,285.0 C524.4,285.7 523.5,287.9 523.2,288.8 C522.9,289.6 522.8,291.8 522.5,292.5 C522.2,293.2 521.3,294.4 520.6,295.0 C519.9,295.6 517.1,296.9 516.4,297.5 C515.8,298.1 515.3,299.5 515.0,300.0 C514.7,300.5 514.2,301.6 513.5,302.1 C512.8,302.6 509.5,303.7 508.9,304.2 C508.2,304.7 508.8,305.8 508.3,306.2 C507.8,306.7 504.9,307.8 504.4,308.3 C503.9,308.8 504.2,309.9 503.7,310.4 C503.2,310.9 500.8,311.9 500.0,312.5 C499.2,313.1 497.0,315.1 496.6,315.8 C496.2,316.6 496.7,318.4 496.4,319.2 C496.1,319.9 493.8,321.8 493.8,322.5 C493.7,323.2 496.1,324.5 496.0,325.0 C495.9,325.5 493.3,326.3 492.7,326.7 C492.1,327.1 491.5,327.9 490.9,328.3 C490.3,328.7 488.4,329.5 487.5,330.0 C486.6,330.5 483.9,331.9 483.0,332.5 C482.1,333.1 479.8,334.4 480.0,335.0 C480.2,335.6 484.7,336.9 485.0,337.5 C485.3,338.1 483.6,339.4 482.7,340.0 C481.8,340.6 478.2,341.9 477.3,342.5 C476.4,343.1 475.4,344.4 475.0,345.0 C474.6,345.6 474.1,346.9 473.6,347.5 C473.0,348.1 470.8,349.4 470.2,350.0 C469.7,350.6 469.0,351.8 468.8,352.5 C468.5,353.2 468.8,355.1 468.4,355.8 C468.0,356.6 465.4,358.4 465.0,359.2 C464.6,359.9 465.9,361.8 465.0,362.5 C464.1,363.2 458.1,364.4 457.5,365.0 C456.9,365.6 459.8,366.9 460.0,367.5 C460.2,368.1 459.4,369.4 458.8,370.0 C458.1,370.6 455.2,371.9 454.5,372.5 C453.8,373.1 453.6,374.4 453.1,375.0 C452.5,375.6 450.2,376.8 450.0,377.5 C449.8,378.2 451.0,380.4 451.4,381.2 C451.8,382.1 453.9,384.0 453.8,385.0 C453.6,386.0 450.8,389.0 450.3,390.0 C449.8,391.0 449.9,392.5 449.6,393.2 C449.2,393.9 447.1,395.6 447.0,396.4 C446.9,397.2 448.2,398.9 448.9,399.6 C449.5,400.4 452.2,402.3 452.4,402.9 C452.6,403.5 451.3,404.2 450.5,404.6 C449.7,405.0 446.4,405.9 445.7,406.3 C445.0,406.7 445.3,407.7 444.6,408.1 C443.8,408.5 440.1,409.4 439.3,409.8 C438.5,410.2 437.4,410.9 437.4,411.5 C437.4,412.1 439.1,414.2 439.2,415.1 C439.3,415.9 438.1,417.8 438.3,418.6 C438.5,419.5 440.0,421.4 440.6,422.2 C441.2,423.0 443.0,424.4 443.4,425.1 C443.7,425.7 443.4,427.3 443.7,427.9 C444.0,428.6 447.3,430.2 446.0,430.8 C444.4,431.5 430.4,433.4 429.9,434.0 C429.4,434.6 440.2,435.6 441.7,436.2 C442.8,436.7 442.6,438.7 442.4,439.4 C442.2,440.1 440.2,441.9 440.0,442.6 C439.7,443.3 441.7,445.3 440.6,445.8 C438.8,446.7 425.9,449.3 424.5,450.1 C423.1,450.9 428.0,451.7 428.8,452.2 C429.5,452.8 431.2,453.9 430.9,454.4 C430.6,454.9 427.1,455.8 426.4,456.2 C425.7,456.6 425.3,457.6 424.6,458.0 C423.8,458.4 418.8,458.8 420.2,459.8 C421.6,460.8 435.9,465.0 436.3,466.2 C436.7,467.4 424.5,469.4 423.4,470.5 C422.3,471.6 426.7,475.0 426.6,475.9 C426.5,476.8 423.2,477.5 422.7,478.0 C422.1,478.6 422.5,479.7 421.9,480.2 C421.3,480.7 418.2,481.8 417.6,482.4 C416.9,482.9 416.7,484.0 416.0,484.5 C415.3,485.0 412.3,486.1 411.5,486.6 C410.7,487.2 410.0,488.4 409.5,488.8 C409.0,489.2 408.1,490.0 407.2,490.4 C406.4,490.8 403.3,491.6 402.6,492.0 C401.9,492.4 401.9,493.2 401.3,493.6 C400.7,494.0 396.4,494.4 397.7,495.2 C399.3,496.1 414.1,500.7 414.8,501.7 C415.5,502.7 405.1,503.4 404.1,503.8 C403.3,504.1 405.0,504.8 405.8,505.1 C406.6,505.5 410.2,506.2 411.0,506.5 C411.7,506.8 411.8,507.5 412.3,507.9 C412.9,508.2 417.3,508.8 415.9,509.2 C413.1,510.0 390.8,513.5 388.0,514.6 C385.9,515.5 391.3,518.2 392.3,518.9 C393.3,519.6 395.6,519.9 396.3,520.2 C397.0,520.5 397.4,521.2 398.1,521.5 C398.9,521.9 402.0,522.6 402.9,522.9 C403.7,523.2 406.2,523.9 405.2,524.2 C403.8,524.6 391.1,525.5 391.2,526.4 C391.3,527.3 404.8,530.9 406.2,531.8 C407.5,532.7 403.5,533.9 403.0,534.5 C402.5,535.1 402.6,536.5 402.1,537.1 C401.5,537.8 398.9,539.2 398.3,539.8 C397.7,540.4 396.4,541.9 396.6,542.5 C396.8,543.1 399.4,544.4 399.8,545.0 C400.3,545.6 399.8,546.9 400.3,547.5 C400.8,548.1 403.9,549.4 404.1,550.0 C404.3,550.6 403.5,552.1 402.4,552.6 C400.2,553.6 387.0,557.4 385.5,558.3 C384.0,559.2 389.0,560.1 389.8,560.6 C390.7,561.2 394.4,562.6 393.0,563.0 C389.8,563.9 363.6,567.6 362.0,568.6 C360.4,569.6 380.0,570.6 379.0,571.4 C378.0,572.2 354.2,574.5 353.6,575.2 C353.0,575.9 373.2,576.6 374.2,577.1 C375.2,577.6 362.5,579.2 362.0,579.9 C361.5,580.6 369.7,582.0 369.5,582.7 C369.3,583.4 363.8,584.7 360.2,585.5 C356.5,586.4 337.4,589.3 337.6,590.2 C337.8,591.1 359.8,591.7 362.0,593.0 C364.2,594.3 356.8,600.0 356.4,601.5 C356.0,603.0 356.5,605.5 358.3,606.2 C361.4,607.5 383.8,611.3 382.7,612.4 C381.6,613.5 349.8,614.8 348.9,615.6 C348.0,616.4 371.8,618.6 375.2,619.4 C376.7,619.7 378.7,621.5 378.0,622.2 C377.3,622.9 369.0,624.1 369.5,625.0 C370.0,625.9 381.2,629.2 382.7,629.7"/>
<g stroke="#000" stroke-width="2.5" fill="none" stroke-linecap="butt">
<path d="M114.5,7 V631.2"/><path d="M113.2,630 H739.2"/>
<path d="M103,630.0 H114.5"/><path d="M114.3,630 V640"/>
<path d="M103,526.4 H114.5"/><path d="M218.2,630 V640"/>
<path d="M103,422.8 H114.5"/><path d="M322.2,630 V640"/>
<path d="M103,319.2 H114.5"/><path d="M426.2,630 V640"/>
<path d="M103,215.5 H114.5"/><path d="M530.1,630 V640"/>
<path d="M103,111.9 H114.5"/><path d="M634.0,630 V640"/>
<path d="M103,8.3 H114.5"/><path d="M738.0,630 V640"/>
</g>
<text class="t" x="91.6" y="639.7" text-anchor="end">-4</text><text class="t" x="117.0" y="676.6" text-anchor="middle">-4</text>
<text class="t" x="91.6" y="537.0" text-anchor="end">-3</text><text class="t" x="217.8" y="676.6" text-anchor="middle">-3</text>
<text class="t" x="91.6" y="434.3" text-anchor="end">-2</text><text class="t" x="321.7" y="676.6" text-anchor="middle">-2</text>
<rect x="64.1" y="321.1" width="8.2" height="2.9" fill="#000"/><path d="M82.50,331.90 L85.70,331.90 L85.70,308.40 L83.50,308.40 C82.90,310.70 81.10,312.50 77.00,312.70 L77.00,315.30 L82.50,315.30 Z" fill="#000"/><rect x="412.6" y="666.0" width="8.3" height="2.9" fill="#000"/><path d="M430.90,676.70 L434.10,676.70 L434.10,653.20 L431.90,653.20 C431.30,655.50 429.50,657.30 425.40,657.50 L425.40,660.10 L430.90,660.10 Z" fill="#000"/><text class="t" x="91.6" y="228.9" text-anchor="end">0</text><text class="t" x="530.1" y="676.6" text-anchor="middle">0</text>
<path d="M80.80,126.30 L84.00,126.30 L84.00,102.80 L81.80,102.80 C81.20,105.10 79.40,106.90 75.30,107.10 L75.30,109.70 L80.80,109.70 Z" fill="#000"/><path d="M632.10,676.70 L635.30,676.70 L635.30,653.20 L633.10,653.20 C632.50,655.50 630.70,657.30 626.60,657.50 L626.60,660.10 L632.10,660.10 Z" fill="#000"/><text class="t" x="91.6" y="23.5" text-anchor="end">2</text><text class="t" x="738.0" y="676.6" text-anchor="middle">2</text>
<text class="ax" x="428.8" y="734.3" text-anchor="middle">log (frequency / %)</text>
<text class="ax" style="font-size:38px" transform="translate(29.2,320.5) rotate(-90)" text-anchor="middle">Height (<tspan style="font-style:italic">z</tspan>) / µm</text>
<text class="b" x="204.7" y="206.9" text-anchor="end" fill="#000000">0 h</text>
<text class="b" x="204.7" y="246.9" text-anchor="end" fill="#ee0000">0.5 h</text>
<text class="b" x="204.7" y="286.9" text-anchor="end" fill="#0000ee">h</text><path d="M164.00,287.10 L169.20,287.10 L169.20,263.30 L165.30,263.30 C164.60,265.80 162.70,267.20 158.80,267.20 L158.80,271.20 L164.00,271.20 Z" fill="#0000ee"/>
<text class="b" x="204.7" y="326.9" text-anchor="end" fill="#f064f0">2 h</text>
<text class="b" x="542.9" y="398.1" text-anchor="end" fill="#0a800a">4 h</text>
<text class="b" x="542.9" y="438.1" text-anchor="end" fill="#ff9410">6 h</text>
<text class="b" x="542.9" y="478.1" text-anchor="end" fill="#9a10d0">8 h</text>
<text class="b" x="542.9" y="518.3" text-anchor="end" fill="#b4b848">2 h</text><path d="M483.10,518.50 L488.30,518.50 L488.30,494.70 L484.40,494.70 C483.70,497.20 481.80,498.60 477.90,498.60 L477.90,502.60 L483.10,502.60 Z" fill="#b4b848"/>
<text class="b" x="542.9" y="558.3" text-anchor="end" fill="#a06a30">6 h</text><path d="M483.10,558.50 L488.30,558.50 L488.30,534.70 L484.40,534.70 C483.70,537.20 481.80,538.60 477.90,538.60 L477.90,542.60 L483.10,542.60 Z" fill="#a06a30"/>
<text class="b" x="542.9" y="598.3" text-anchor="end" fill="#109ad0">24 h</text>
</svg></body></html>
